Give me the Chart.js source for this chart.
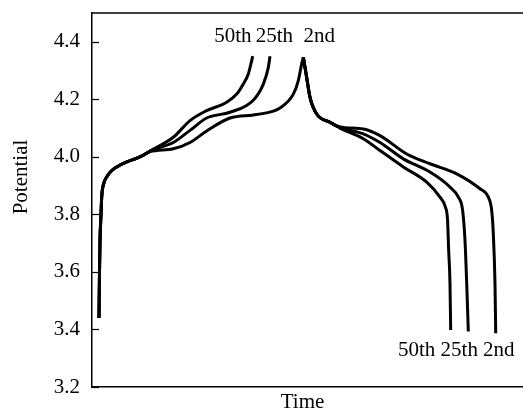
<!DOCTYPE html>
<html>
<head>
<meta charset="utf-8">
<script src="https://cdn.jsdelivr.net/npm/chart.js@4.4.1/dist/chart.umd.min.js"></script>
<style>
html,body{margin:0;padding:0;background:#fff;}
#wrap{width:523px;height:416px;position:relative;}
</style>
</head>
<body>
<div id="wrap"><canvas id="c" width="523" height="416"></canvas></div>
<script>
// Time in arbitrary units (0-100), potential in V
const yTicks = [3.2, 3.4, 3.6, 3.8, 4.0, 4.2, 4.4];
const cycleNames = ['50th', '25th', '2nd'];

const charge50 = [[1.62,3.44],[1.74,3.60],[1.86,3.71],[2.09,3.80],[2.25,3.86],[2.78,3.91],[3.41,3.93],[4.41,3.95],[5.73,3.965],[7.66,3.98],[9.51,3.99],[11.83,4.005],[13.46,4.02],[18.86,4.068],[22.74,4.126],[26.22,4.158],[31.25,4.19],[33.64,4.219],[35.1,4.253],[36.27,4.288],[36.9,4.325],[37.29,4.35]];
const charge25 = [[1.62,3.44],[1.74,3.60],[1.86,3.71],[2.09,3.80],[2.25,3.86],[2.78,3.91],[3.41,3.93],[4.41,3.95],[5.73,3.965],[7.66,3.98],[9.51,3.99],[11.83,4.005],[13.46,4.02],[18.86,4.05],[22.74,4.092],[26.6,4.135],[32.02,4.155],[37.42,4.197],[39.75,4.253],[40.9,4.31],[41.3,4.35]];
const charge2 = [[1.62,3.44],[1.74,3.60],[1.86,3.71],[2.09,3.80],[2.25,3.86],[2.78,3.91],[3.41,3.93],[4.41,3.95],[5.73,3.965],[7.66,3.98],[9.51,3.99],[11.83,4.005],[13.46,4.018],[18.86,4.028],[22.74,4.05],[26.6,4.09],[32.02,4.135],[38.21,4.147],[43.62,4.17],[46.71,4.218],[47.87,4.265],[48.65,4.323],[49.03,4.346]];
const discharge2 = [[49.03,4.346],[49.81,4.276],[50.58,4.207],[52.13,4.149],[55.22,4.12],[57.54,4.104],[62.95,4.097],[66.82,4.074],[73.02,4.01],[78.42,3.976],[84.62,3.941],[90.02,3.889],[91.95,3.86],[92.74,3.813],[93.11,3.733],[93.5,3.56],[93.67,3.387]];
const discharge25 = [[49.03,4.346],[49.81,4.276],[50.58,4.207],[52.13,4.149],[55.22,4.12],[57.54,4.102],[62.95,4.08],[66.82,4.05],[72.23,3.993],[78.42,3.947],[83.06,3.895],[85.0,3.86],[86.0,3.813],[86.54,3.71],[86.94,3.56],[87.31,3.393]];
const discharge50 = [[49.03,4.346],[49.81,4.276],[50.58,4.207],[52.13,4.149],[55.22,4.12],[57.54,4.10],[62.95,4.063],[66.82,4.022],[72.23,3.965],[77.66,3.912],[80.74,3.86],[82.0,3.825],[82.5,3.779],[82.75,3.676],[83.06,3.56],[83.22,3.398]];

// label anchors (time, potential) for the cycle names
const topLabelX = [32.7, 42.3, 52.7];
const topLabelY = 4.417;
const bottomLabelX = [75.3, 85.2, 94.4];
const bottomLabelY = 3.327;

const FONT = '"Liberation Serif", "Times New Roman", serif';
const toPts = a => a.map(p => ({x: p[0], y: p[1]}));
const curves = [charge50, charge25, charge2, discharge2, discharge25, discharge50];

const decor = {
  id: 'decor',
  afterDraw(chart) {
    const ctx = chart.ctx, ca = chart.chartArea;
    const xs = chart.scales.x, ys = chart.scales.y;
    ctx.save();
    ctx.strokeStyle = '#000';
    ctx.lineWidth = 1.5;
    // top frame line
    ctx.beginPath(); ctx.moveTo(ca.left, ys.getPixelForValue(4.5)); ctx.lineTo(ca.right, ys.getPixelForValue(4.5)); ctx.stroke();
    // inward tick marks
    ctx.lineWidth = 1.2;
    ys.ticks.forEach(t => {
      const py = Math.round(ys.getPixelForValue(t.value)) + 0.5;
      ctx.beginPath(); ctx.moveTo(ca.left, py); ctx.lineTo(ca.left + 7, py); ctx.stroke();
    });
    ctx.fillStyle = '#000';
    ctx.font = '21px ' + FONT;
    ctx.textAlign = 'center'; ctx.textBaseline = 'middle';
    cycleNames.forEach((n, i) => {
      ctx.fillText(n, xs.getPixelForValue(topLabelX[i]), ys.getPixelForValue(topLabelY));
      ctx.fillText(n, xs.getPixelForValue(bottomLabelX[i]), ys.getPixelForValue(bottomLabelY));
    });
    // axis titles
    ctx.font = '21px ' + FONT;
    ctx.fillText('Time', (ca.left + ca.right) / 2 - 5, 402);
    ctx.translate(21, 177);
    ctx.rotate(-Math.PI / 2);
    ctx.fillText('Potential', 0, 0);
    ctx.restore();
  }
};

new Chart(document.getElementById('c'), {
  type: 'scatter',
  data: {
    datasets: curves.map(c => ({
      data: toPts(c),
      showLine: true,
      borderColor: '#000',
      borderWidth: 3,
      pointRadius: 0,
      cubicInterpolationMode: 'monotone',
      fill: false
    }))
  },
  options: {
    responsive: false,
    animation: false,
    events: [],
    layout: {padding: {top: 0, right: 0, bottom: 0, left: 0}},
    plugins: {legend: {display: false}, tooltip: {enabled: false}},
    scales: {
      x: {
        type: 'linear', min: 0, max: 100,
        grid: {display: false, drawTicks: false},
        border: {display: true, color: '#000', width: 1.5},
        ticks: {display: false},
        afterFit: s => { s.height = 29; }
      },
      y: {
        type: 'linear', min: 3.2, max: 4.5,
        grid: {display: false, drawTicks: false},
        border: {display: true, color: '#000', width: 1.5},
        afterBuildTicks: s => { s.ticks = yTicks.map(v => ({value: v})); },
        ticks: {
          color: '#000', padding: 12,
          font: {family: FONT, size: 21},
          callback: v => v.toFixed(1)
        },
        afterFit: s => { s.width = 92; s.paddingTop = 13; }
      }
    }
  },
  plugins: [decor]
});
</script>
</body>
</html>
